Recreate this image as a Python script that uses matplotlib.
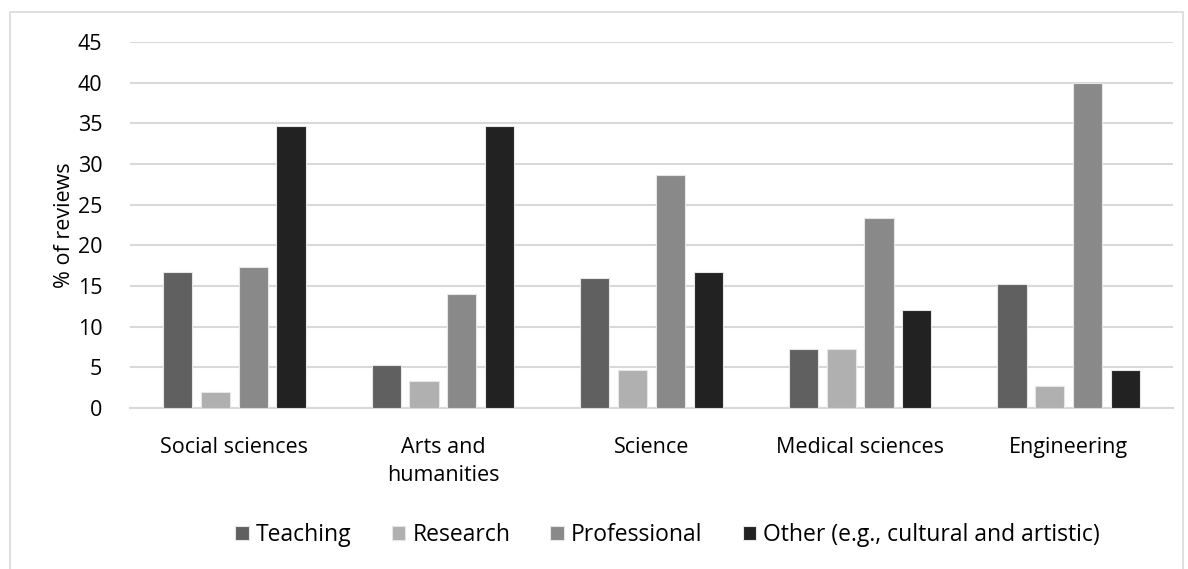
import numpy as np
import matplotlib
matplotlib.use("Agg")
import matplotlib.pyplot as plt
from matplotlib.patches import Rectangle

plt.rcParams["font.family"] = ["Open Sans", "DejaVu Sans"]

# Data
categories = ["Social sciences", "Arts and\nhumanities", "Science", "Medical sciences", "Engineering"]
series = ["Teaching", "Research", "Professional", "Other (e.g., cultural and artistic)"]
teaching = [16.7, 5.3, 16.0, 7.3, 15.3]
research = [2.0, 3.3, 4.7, 7.3, 2.7]
professional = [17.3, 14.0, 28.7, 23.3, 40.0]
other = [34.7, 34.7, 16.7, 12.0, 4.7]
values = [teaching, research, professional, other]
colors = ["#606060", "#b0b0b0", "#898989", "#222222"]

fig = plt.figure(figsize=(11.88, 5.69), dpi=100)
ax = fig.add_axes([130 / 1188, 1 - 408 / 569, (1173 - 130) / 1188, (408 - 42) / 569])

# Outer chart border
fig.patches.append(Rectangle((10 / 1188, -0.05), (1183 - 10) / 1188, 1.05 - 12 / 569,
                             transform=fig.transFigure, fill=False,
                             edgecolor="#d9d9d9", lw=1.2))

x = np.arange(len(categories))
width = 0.14
pitch = 0.181
for i, (name, vals, c) in enumerate(zip(series, values, colors)):
    offset = (i - 1.5) * pitch
    ax.bar(x + offset, vals, width=width, color=c, edgecolor="#e6e6e6",
           linewidth=0.8, label=name, zorder=3)

ax.set_xlim(-0.5, len(categories) - 0.5)
ax.set_ylim(0, 45)
ax.set_yticks(np.arange(0, 46, 5))
ax.set_xticks(x)
ax.set_xticklabels(categories, fontsize=15.5, linespacing=1.45)
ax.tick_params(axis="y", labelsize=15.5, length=0, pad=20)
ax.tick_params(axis="x", length=0, pad=21)
ax.set_ylabel("% of reviews", fontsize=15.5, labelpad=2)
ax.grid(axis="y", color="#d9d9d9", lw=1.5, zorder=0)
for s in ["top", "right", "left"]:
    ax.spines[s].set_visible(False)
ax.spines["bottom"].set_color("#d9d9d9")
ax.spines["bottom"].set_linewidth(1.5)

fig.legend(loc="center", bbox_to_anchor=(0.562, 1 - 535 / 569), ncol=4,
           frameon=False, fontsize=16.5, handlelength=0.6, handleheight=0.6,
           handletextpad=0.3, columnspacing=1.75)

fig.savefig("out.png", dpi=100)
